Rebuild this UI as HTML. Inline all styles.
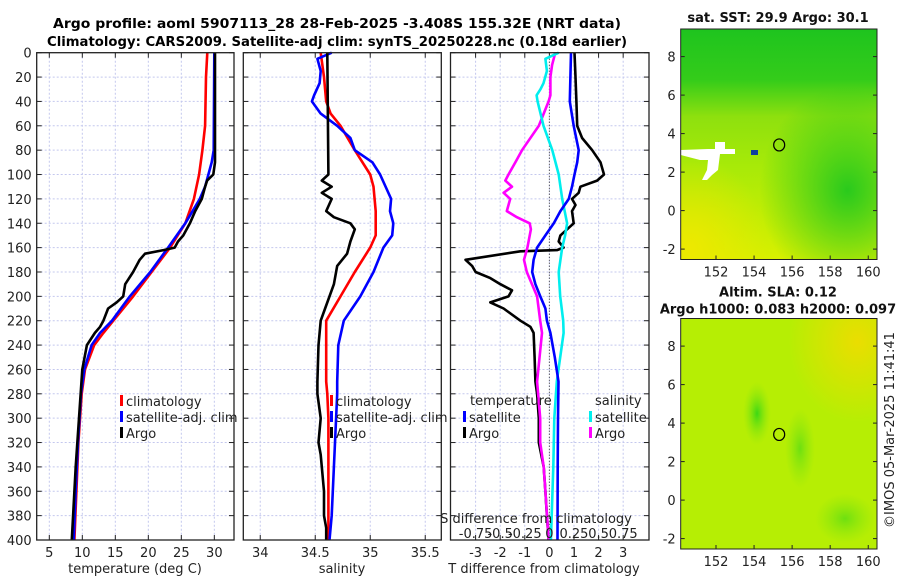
<!DOCTYPE html>
<html><head><meta charset="utf-8"><style>
html,body{margin:0;padding:0;background:#fff;}
svg{display:block;font-family:"DejaVu Sans","Liberation Sans",sans-serif;}
</style></head><body>
<svg id="fig" width="900" height="580" viewBox="0 0 900 580" xmlns="http://www.w3.org/2000/svg">
<defs>
<linearGradient id="sstBase" x1="0" y1="0" x2="0" y2="1">
<stop offset="0" stop-color="#1ec41e"/><stop offset="0.22" stop-color="#34cc1a"/><stop offset="0.38" stop-color="#8ee00e"/><stop offset="0.6" stop-color="#a8ea08"/><stop offset="1" stop-color="#d8f000"/>
</linearGradient>
<radialGradient id="sstGreen" cx="0.85" cy="0.7" r="0.45"><stop offset="0" stop-color="#22c81e" stop-opacity="0.95"/><stop offset="1" stop-color="#22c81e" stop-opacity="0"/></radialGradient>
<radialGradient id="sstYel" cx="0.05" cy="0.95" r="0.4"><stop offset="0" stop-color="#f0e800" stop-opacity="0.9"/><stop offset="1" stop-color="#f0e800" stop-opacity="0"/></radialGradient>
<radialGradient id="slaYel" cx="0.9" cy="0.1" r="0.35"><stop offset="0" stop-color="#f0dc00" stop-opacity="0.9"/><stop offset="1" stop-color="#f0dc00" stop-opacity="0"/></radialGradient>
<radialGradient id="slaGr1" cx="0.5" cy="0.5" r="0.5"><stop offset="0" stop-color="#3cd814"/><stop offset="1" stop-color="#8ee60e" stop-opacity="0"/></radialGradient>
<radialGradient id="slaGr2" cx="0.5" cy="0.5" r="0.5"><stop offset="0" stop-color="#6ee010"/><stop offset="1" stop-color="#8ee60e" stop-opacity="0"/></radialGradient>
</defs>
<g font-weight="bold" font-size="13.5" text-anchor="middle">
<text x="337" y="28" textLength="568" lengthAdjust="spacingAndGlyphs">Argo profile: aoml 5907113_28 28-Feb-2025 -3.408S 155.32E (NRT data)</text>
<text x="337" y="46" textLength="580" lengthAdjust="spacingAndGlyphs">Climatology: CARS2009. Satellite-adj clim: synTS_20250228.nc (0.18d earlier)</text>
</g>
<g id="panels"></g>
<g id="maps"></g>
<text transform="translate(894,430) rotate(-90)" font-size="13" text-anchor="middle" fill="#222">©IMOS 05-Mar-2025 11:41:41</text>
</svg>
<script>
// ---- Data ----
const depthTicks = [0,20,40,60,80,100,120,140,160,180,200,220,240,260,280,300,320,340,360,380,400];
const tempTicks = [5,10,15,20,25,30];
const salTicks = [34,34.5,35,35.5];
const tdiffTicks = [-3,-2,-1,0,1,2,3];
const sdiffTickLabels = ["-0.75","-0.5","-0.25","0","0.25","0.5","0.75"];

const tClimDepth = [0,20,60,80,100,120,140,160,180,200,220,230,240,260,280,320,360,400];
const tClimVal = [28.94,28.74,28.6,28.2,27.7,26.9,25.6,23.3,20.5,17.7,14.7,13.2,11.8,10.4,9.9,9.4,9.1,8.8];
const tSatDepth = [0,80,90,100,110,120,140,160,180,200,220,230,240,260,280,320,360,400];
const tSatVal = [30.0,29.9,29.6,29.1,28.6,27.8,25.6,23.0,20.3,17.2,14.5,12.7,11.4,10.3,9.8,9.35,9.0,8.7];
const tArgoDepth = [0,90,100,105,110,120,130,140,150,155,160,162,165,170,180,190,200,205,210,220,225,230,240,260,300,340,400];
const tArgoVal = [30.1,30.1,29.85,28.9,28.6,28.1,27.1,26.3,25.3,24.5,24.0,22.3,19.5,18.7,17.7,16.5,16.2,15.2,13.9,13.2,12.7,11.9,10.7,10.0,9.5,9.0,8.4];

const sClimDepth = [0,20,40,50,60,80,100,110,130,150,160,180,200,220,240,270,280,300,320,360,400];
const sClimVal = [34.55,34.58,34.6,34.64,34.73,34.86,35.0,35.03,35.05,35.05,35.0,34.86,34.73,34.6,34.6,34.6,34.61,34.62,34.62,34.62,34.62];
const sSatDepth = [0,5,15,25,35,40,50,60,70,80,90,100,120,130,140,150,160,180,200,220,240,270,280,300,340,380,400];
const sSatVal = [34.65,34.52,34.55,34.54,34.49,34.47,34.55,34.7,34.82,34.86,35.02,35.09,35.19,35.18,35.21,35.2,35.12,35.03,34.91,34.76,34.71,34.7,34.7,34.69,34.67,34.65,34.63];
const sArgoDepth = [0,100,105,110,115,120,130,135,140,145,155,165,175,190,210,220,240,270,280,300,320,330,340,360,380,390,400];
const sArgoVal = [34.61,34.62,34.56,34.65,34.56,34.65,34.6,34.67,34.82,34.86,34.82,34.79,34.7,34.67,34.59,34.55,34.53,34.52,34.52,34.55,34.53,34.55,34.56,34.58,34.58,34.6,34.6];

const dTArgoDepth = [0,20,40,60,70,80,90,100,105,110,115,120,125,130,140,150,155,160,162,163,170,175,180,185,190,195,200,205,210,220,225,230,250,270,280,300,320,340,360,380,400];
const dTArgoVal = [1.02,1.06,1.1,1.13,1.33,1.74,2.08,2.22,1.94,1.26,1.19,0.92,1.06,0.92,0.99,0.45,0.38,0.58,0.31,-1.18,-3.41,-3.14,-3.0,-2.4,-1.99,-1.52,-1.66,-2.4,-1.86,-1.18,-0.77,-0.64,-0.6,-0.57,-0.5,-0.43,-0.43,-0.23,-0.16,-0.1,-0.03];
const dTSatDepth = [0,40,60,80,90,100,110,120,130,140,150,160,170,180,190,200,210,220,230,250,270,300,340,400];
const dTSatVal = [0.88,0.83,0.99,1.19,1.13,1.02,0.92,0.79,0.45,0.18,-0.16,-0.5,-0.64,-0.7,-0.57,-0.37,-0.16,-0.1,0.04,0.22,0.37,0.35,0.34,0.33];
const dSSatDepth = [0,5,15,25,30,35,40,60,80,100,120,140,150,160,180,200,220,230,270,300,340,400];
const dSSatVal = [0.095,-0.04,-0.025,-0.06,-0.09,-0.13,-0.12,-0.06,0.03,0.095,0.13,0.18,0.16,0.13,0.095,0.11,0.14,0.145,0.075,0.05,0.04,0.015];
const dSArgoDepth = [0,10,20,35,40,50,60,80,90,100,105,110,115,120,125,130,135,140,145,160,170,180,200,220,230,270,300,320,340,360,400];
const dSArgoVal = [0.06,0.028,0.01,0.01,-0.008,-0.058,-0.108,-0.278,-0.345,-0.415,-0.448,-0.38,-0.465,-0.398,-0.415,-0.433,-0.33,-0.2,-0.188,-0.223,-0.258,-0.23,-0.125,-0.093,-0.075,-0.125,-0.093,-0.093,-0.058,-0.04,-0.008];

const lonTicks = [152,154,156,158,160];
const latTicks = [-2,0,2,4,6,8];
const argoLon = 155.32, argoLat = 3.41;

// ---- Drawing ----
const NS = "http://www.w3.org/2000/svg";
function mk(tag, attrs, parent){ const e=document.createElementNS(NS,tag); for(const k in attrs) e.setAttribute(k,attrs[k]); parent.appendChild(e); return e; }
const gP = document.getElementById('panels');
const top0 = 52.7, bot0 = 540;
const yD = d => top0 + (d/400)*(bot0-top0);

function panel(name, x0, x1, vmin, vmax){
  const g = mk('g',{},gP);
  
  
  const xs = v => x0 + (v-vmin)/(vmax-vmin)*(x1-x0);
  return {g, xs, x0, x1};
}
function frame(P, xticks, xlabelFn, showY){
  const g = P.g;
  // grid
  depthTicks.forEach(d=>{ if(d>0&&d<400){ const l=mk('line',{x1:P.x0,x2:P.x1,y1:yD(d),y2:yD(d),stroke:'#c4c8ee','stroke-width':1,'stroke-dasharray':'2,2'},g);
      }});
  xticks.forEach(v=>{ const l=mk('line',{x1:P.xs(v),x2:P.xs(v),y1:top0,y2:bot0,stroke:'#c4c8ee','stroke-width':1,'stroke-dasharray':'2,2'},g);
      });
  // ticks
  depthTicks.forEach(d=>{
    mk('line',{x1:P.x0,x2:P.x0+5,y1:yD(d),y2:yD(d),stroke:'#222'},g);
    mk('line',{x1:P.x1,x2:P.x1-5,y1:yD(d),y2:yD(d),stroke:'#222'},g);
    if(showY){ const t=mk('text',{x:P.x0-5,y:yD(d)+5,'font-size':13,'text-anchor':'end',fill:'#222'},g); t.textContent=d;
        }
  });
  xticks.forEach((v,i)=>{
    mk('line',{x1:P.xs(v),x2:P.xs(v),y1:bot0,y2:bot0-5,stroke:'#222'},g);
    mk('line',{x1:P.xs(v),x2:P.xs(v),y1:top0,y2:top0+5,stroke:'#222'},g);
    const t=mk('text',{x:P.xs(v),y:557,'font-size':13,'text-anchor':'middle',fill:'#222'},g); t.textContent=xlabelFn(v,i);
     
  });
}
function series(P, depths, vals, color, name, xsFn){
  const xs = xsFn || P.xs;
  const pts = depths.map((d,i)=>xs(vals[i]).toFixed(1)+','+yD(d).toFixed(1)).join(' ');
  const pl = mk('polyline',{points:pts,fill:'none',stroke:color,'stroke-width':2.6,'stroke-linejoin':'round'},P.g);
  
  
}
function border(P){ mk('rect',{x:P.x0,y:top0,width:P.x1-P.x0,height:bot0-top0,fill:'none',stroke:'#222','stroke-width':1.3},P.g); }
function legendEntry(g,x,y,color,label){
  const e = mk('g',{},g);
  
  
  mk('rect',{x:x,y:y-11,width:3,height:11,fill:color},e);
  const t=mk('text',{x:x+6,y:y,'font-size':13,fill:'#222'},e); t.textContent=label;
}
function axisTitle(g,x,y,txt,name){ const t=mk('text',{x:x,y:y,'font-size':13,'text-anchor':'middle',fill:'#222'},g); t.textContent=txt;
    }

// Panel 1 temperature
const P1 = panel('temperature-panel', 36.7, 234, 3.09, 32.98);
frame(P1, tempTicks, v=>v, true);
series(P1, tClimDepth, tClimVal, '#ff0000', 'temp-climatology-line');
series(P1, tSatDepth, tSatVal, '#0000ff', 'temp-satellite-line');
series(P1, tArgoDepth, tArgoVal, '#000000', 'temp-argo-line');
border(P1);
legendEntry(P1.g,120,406,'#ff0000','climatology');
legendEntry(P1.g,120,422,'#0000ff','satellite-adj. clim');
legendEntry(P1.g,120,438,'#000000','Argo');
axisTitle(P1.g,135,573,'temperature (deg C)','temperature-axis-title');

// Panel 2 salinity
const P2 = panel('salinity-panel', 243.3, 441.3, 33.846, 35.646);
frame(P2, salTicks, v=>v, false);
series(P2, sClimDepth, sClimVal, '#ff0000', 'sal-climatology-line');
series(P2, sSatDepth, sSatVal, '#0000ff', 'sal-satellite-line');
series(P2, sArgoDepth, sArgoVal, '#000000', 'sal-argo-line');
border(P2);
legendEntry(P2.g,330,406,'#ff0000','climatology');
legendEntry(P2.g,330,422,'#0000ff','satellite-adj. clim');
legendEntry(P2.g,330,438,'#000000','Argo');
axisTitle(P2.g,342,573,'salinity','salinity-axis-title');

// Panel 3 differences
const P3 = panel('difference-panel', 450.5, 649, -4.02, 4.05);
frame(P3, tdiffTicks, v=>v, false);
const zl = mk('line',{x1:P3.xs(0),x2:P3.xs(0),y1:top0,y2:bot0,stroke:'#333','stroke-width':1,'stroke-dasharray':'1,2'},P3.g);
 
const xsS = v => P3.xs(v*4);
series(P3, dTArgoDepth, dTArgoVal, '#000000', 'tdiff-argo-line');
series(P3, dSArgoDepth, dSArgoVal, '#ff00ff', 'sdiff-argo-line', xsS);
series(P3, dSSatDepth, dSSatVal, '#00eeee', 'sdiff-satellite-line', xsS);
series(P3, dTSatDepth, dTSatVal, '#0000ff', 'tdiff-satellite-line');
border(P3);
(function(){ const t=mk('text',{x:470,y:405,'font-size':13,fill:'#222'},P3.g); t.textContent='temperature';
   
  const s=mk('text',{x:595,y:405,'font-size':13,fill:'#222'},P3.g); s.textContent='salinity';
    })();
legendEntry(P3.g,463,422,'#0000ff','satellite');
legendEntry(P3.g,463,438,'#000000','Argo');
legendEntry(P3.g,589,422,'#00eeee','satellite');
legendEntry(P3.g,589,438,'#ff00ff','Argo');
axisTitle(P3.g,536,523,'S difference from climatology','sdiff-axis-title');
tdiffTicks.forEach((v,i)=>{ const t=mk('text',{x:P3.xs(v),y:538,'font-size':13,'text-anchor':'middle',fill:'#222'},P3.g); t.textContent=sdiffTickLabels[i];
    });
axisTitle(P3.g,544,573,'T difference from climatology','tdiff-axis-title');

// ---- Maps ----
const gM = document.getElementById('maps');
function map(name, y0, y1, title1, title2, kind){
  const g = mk('g',{},gM);
  
  
  const x0=680.7, x1=877;
  const lonS = v => 716 + (v-152)*19.03;
  const latS = v => (y0 + 27.6) + (8-v)*((y1-y0-38)/ (10.0) );
  if(kind==='sst'){
    mk('rect',{x:x0,y:y0,width:x1-x0,height:y1-y0,fill:'url(#sstBase)'},g);
    mk('rect',{x:x0,y:y0,width:x1-x0,height:y1-y0,fill:'url(#sstGreen)'},g);
    mk('rect',{x:x0,y:y0,width:x1-x0,height:y1-y0,fill:'url(#sstYel)'},g);
    // missing data patch
    mk('polygon',{points:'708,149 715,149 715,142 725,142 725,149 735,149 735,154 720,154 718,170 712,175 707,180 702,180 707,170 708,160 700,160 680.7,155 680.7,150',fill:'#fff'},g);
    mk('rect',{x:751,y:150,width:7,height:5,fill:'#1040a0'},g);
  } else {
    mk('rect',{x:x0,y:y0,width:x1-x0,height:y1-y0,fill:'#b6ee04'},g);
    mk('rect',{x:x0,y:y0,width:x1-x0,height:y1-y0,fill:'url(#slaYel)'},g);
    mk('ellipse',{cx:757,cy:y0+95,rx:14,ry:32,fill:'url(#slaGr1)'},g);
    mk('ellipse',{cx:845,cy:y0+200,rx:30,ry:25,fill:'url(#slaGr2)'},g);
    mk('ellipse',{cx:800,cy:y0+130,rx:15,ry:40,fill:'url(#slaGr2)'},g);
  }
  mk('rect',{x:x0,y:y0,width:x1-x0,height:y1-y0,fill:'none',stroke:'#222','stroke-width':1},g);
  lonTicks.forEach(v=>{ mk('line',{x1:lonS(v),x2:lonS(v),y1:y1,y2:y1-4,stroke:'#222'},g);
    const t=mk('text',{x:lonS(v),y:y1+17,'font-size':13,'text-anchor':'middle',fill:'#222'},g); t.textContent=v;
      });
  latTicks.forEach(v=>{ mk('line',{x1:x0,x2:x0+4,y1:latS(v),y2:latS(v),stroke:'#222'},g);
    mk('line',{x1:x1,x2:x1-4,y1:latS(v),y2:latS(v),stroke:'#222'},g);
    const t=mk('text',{x:x0-5,y:latS(v)+5,'font-size':13,'text-anchor':'end',fill:'#222'},g); t.textContent=v;
      });
  const c = mk('ellipse',{cx:lonS(argoLon),cy:latS(argoLat),rx:5.5,ry:6,fill:'none',stroke:'#000','stroke-width':1.2},g);
   
  const t1=mk('text',{x:778,y:title2? y0-22 : y0-7,'font-size':13,'font-weight':'bold','text-anchor':'middle',fill:'#111'},g); t1.textContent=title1;
   
  if(title2){ const t2=mk('text',{x:778,y:y0-5,'font-size':13,'font-weight':'bold','text-anchor':'middle',fill:'#111'},g); t2.textContent=title2;
      }
}
map('sst-map', 29, 259.5, 'sat. SST: 29.9 Argo: 30.1', null, 'sst');
map('sla-map', 318.5, 549, 'Altim. SLA: 0.12', 'Argo h1000: 0.083 h2000: 0.097', 'sla');
</script>
</body></html>
